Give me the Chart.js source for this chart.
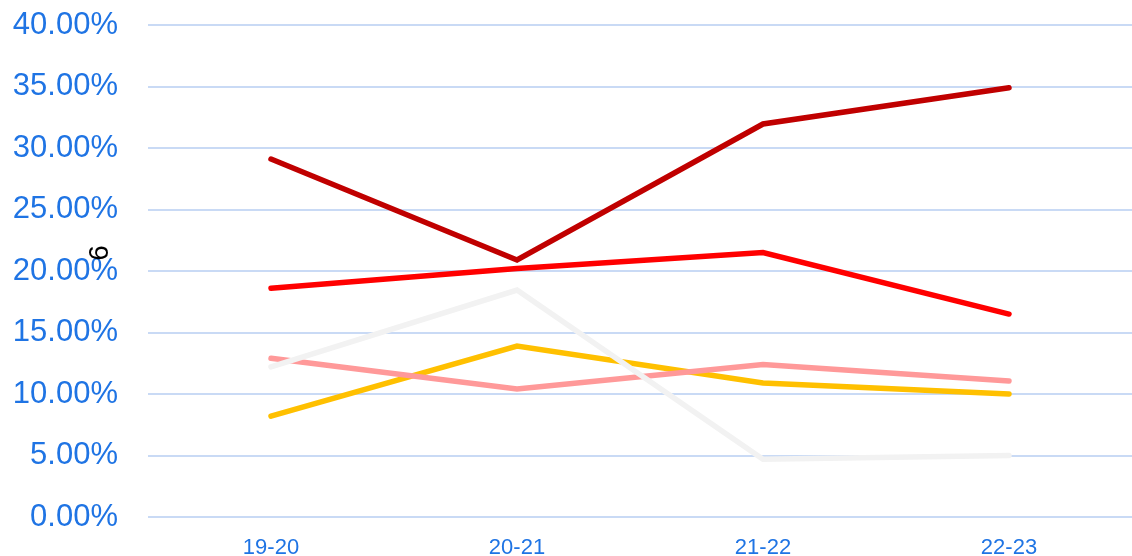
<!DOCTYPE html>
<html>
<head>
<meta charset="utf-8">
<script src="https://cdn.jsdelivr.net/npm/chart.js@4"></script>
<style>
  html, body { margin: 0; padding: 0; background: #fff; }
  #wrap { width: 1132px; height: 556px; position: relative; }
</style>
</head>
<body>
<div id="wrap"><canvas id="chart"></canvas></div>
<script>
// values (percent)
const years = ['19-20', '20-21', '21-22', '22-23'];
const darkRed = [29.1, 20.9, 31.95, 34.9];
const red = [18.6, 20.2, 21.5, 16.5];
const lightGrey = [12.2, 18.45, 4.7, 5.0];
const yellow = [8.2, 13.9, 10.9, 10.0];
const pink = [12.9, 10.4, 12.4, 11.05];
const axisTitle = '6';

const tickBlue = '#1f74e4';
const gridBlue = '#c9daf5';
const fontFamily = '"Liberation Sans", Arial, sans-serif';

// y axis title sits on top of the tick labels in the original
const axisTitlePlugin = {
  id: 'axisTitle',
  afterDraw(chart) {
    const c = chart.ctx;
    c.save();
    c.translate(100, 253);
    c.rotate(-Math.PI / 2);
    c.fillStyle = '#000';
    c.font = '28px ' + fontFamily;
    c.textAlign = 'center';
    c.textBaseline = 'middle';
    c.fillText(axisTitle, 0, 0);
    c.restore();
  }
};

function ds(label, data, color) {
  return {
    label: label,
    data: data,
    borderColor: color,
    backgroundColor: color,
    borderWidth: 5.5,
    pointRadius: 0,
    tension: 0,
    fill: false,
    borderCapStyle: 'round',
    borderJoinStyle: 'miter'
  };
}

new Chart(document.getElementById('chart').getContext('2d'), {
  type: 'line',
  data: {
    labels: years,
    datasets: [
      ds('A', lightGrey, '#f2f2f2'),
      ds('B', pink, '#ff9999'),
      ds('C', yellow, '#ffc000'),
      ds('D', red, '#ff0000'),
      ds('E', darkRed, '#c00000')
    ]
  },
  options: {
    responsive: true,
    maintainAspectRatio: false,
    animation: false,
    layout: { padding: { top: 25, right: 0, left: 0, bottom: 0 } },
    plugins: {
      legend: { display: false },
      tooltip: { enabled: false }
    },
    scales: {
      x: {
        offset: true,
        grid: { display: false },
        border: { display: false },
        ticks: {
          color: tickBlue,
          padding: 10,
          font: { family: fontFamily, size: 22 }
        },
        afterFit(scale) {
          scale.height = 39;
          scale.paddingLeft = 0;
          scale.paddingRight = 0;
        }
      },
      y: {
        min: 0,
        max: 40,
        grid: { color: gridBlue, lineWidth: 2, drawTicks: false },
        border: { display: false },
        ticks: {
          stepSize: 5,
          color: tickBlue,
          padding: 30,
          font: { family: fontFamily, size: 31 },
          callback: v => v.toFixed(2) + '%'
        },
        afterFit(scale) {
          scale.width = 148;
          scale.paddingTop = 0;
          scale.paddingBottom = 0;
        }
      }
    }
  },
  plugins: [axisTitlePlugin]
});
</script>
</body>
</html>
